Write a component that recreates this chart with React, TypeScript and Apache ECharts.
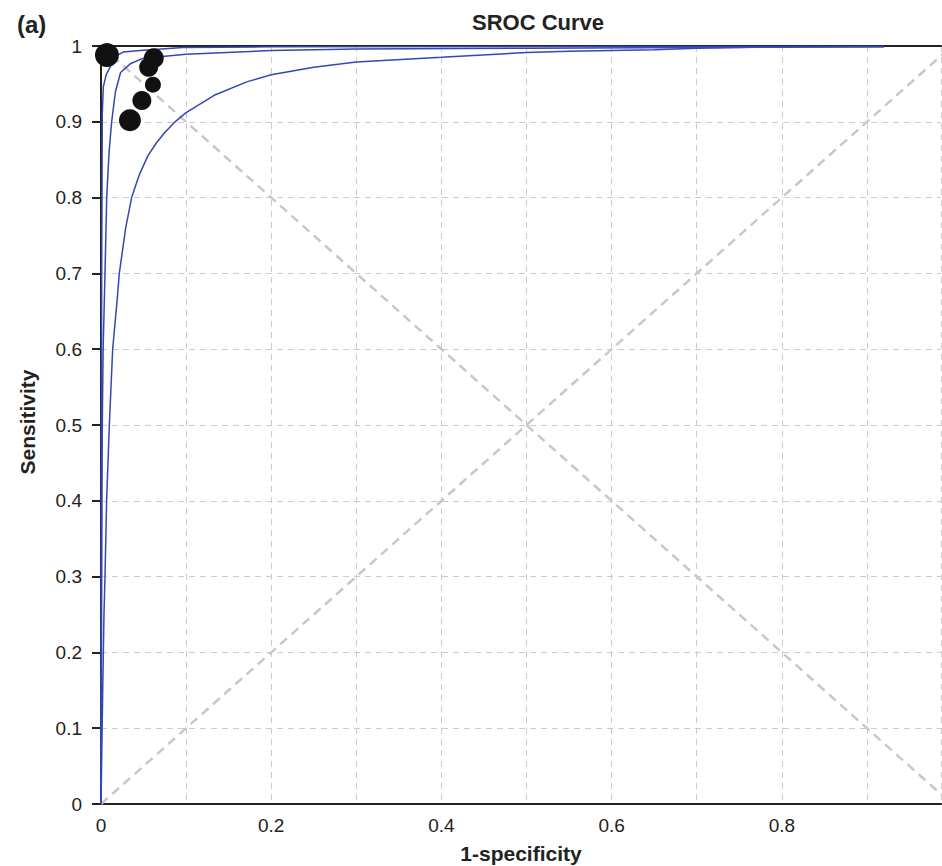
import React, { useEffect, useRef } from "react";
import * as echarts from "echarts";

// Study points (1-specificity, sensitivity) and their relative weights
const studyFpr = [0.007, 0.062, 0.056, 0.061, 0.048, 0.034];
const studySens = [0.988, 0.984, 0.972, 0.949, 0.928, 0.902];
const studyWeight = [24, 20, 19, 16, 19, 22];

// SROC curve and its confidence bounds
const srocCurve = [
  [0, 0], [0.0005, 0.2], [0.001, 0.35], [0.0015, 0.5], [0.0025, 0.6], [0.0047, 0.7],
  [0.0067, 0.8], [0.0095, 0.86], [0.0125, 0.9], [0.017, 0.94], [0.023, 0.965],
  [0.035, 0.977], [0.05, 0.984], [0.1, 0.989], [0.2, 0.994], [0.3, 0.996],
  [0.5, 0.997], [0.7, 0.998], [0.92, 0.999],
];
const upperCurve = [
  [0, 0], [0.0003, 0.4], [0.0008, 0.7], [0.0015, 0.91], [0.0027, 0.946], [0.006, 0.962],
  [0.0106, 0.972], [0.0145, 0.985], [0.026, 0.992], [0.046, 0.994], [0.096, 0.998],
  [0.2, 0.999], [0.92, 0.9995],
];
const lowerCurve = [
  [0, 0], [0.002, 0.15], [0.0035, 0.25], [0.0047, 0.3], [0.0066, 0.4], [0.0098, 0.5],
  [0.0137, 0.6], [0.019, 0.665], [0.0215, 0.7], [0.029, 0.76], [0.036, 0.8], [0.045, 0.83],
  [0.055, 0.855], [0.065, 0.872], [0.075, 0.886], [0.087, 0.9], [0.1, 0.912], [0.133, 0.935],
  [0.172, 0.953], [0.2, 0.962], [0.25, 0.972], [0.3, 0.979], [0.4, 0.985], [0.5, 0.9915],
  [0.55, 0.993], [0.65, 0.995], [0.7, 0.997], [0.75, 0.998], [0.8, 0.999], [0.92, 0.9995],
];
const diagonalUp = [[0, 0], [1, 1]];
const diagonalDown = [[0, 1], [1, 0]];

// visible part of the x range (the figure is cropped just before x = 1)
const xVisibleMax = 0.987;

const titleText = "SROC Curve";
const panelLabel = "(a)";
const xName = "1-specificity";
const yName = "Sensitivity";

const FONT = "'Liberation Sans', Arial, Helvetica, sans-serif";
const fmt = (v: number) => parseFloat(v.toFixed(1)).toString();

export default function App() {
  const ref = useRef<HTMLDivElement>(null);
  useEffect(() => {
    const chart = echarts.init(ref.current!, null, { renderer: "svg" });
    const curveStyle = { color: "#3447b3", width: 1.5 };
    chart.setOption({
      animation: false,
      backgroundColor: "#ffffff",
      textStyle: { fontFamily: FONT },
      grid: { left: 101, top: 46, right: 1, bottom: 62, containLabel: false },
      xAxis: [
        {
          type: "value",
          min: 0,
          max: xVisibleMax,
          interval: 0.1,
          axisLine: { onZero: false, lineStyle: { color: "#222", width: 2 } },
          axisTick: { show: false },
          axisLabel: {
            fontSize: 19,
            color: "#222",
            margin: 12,
            fontFamily: FONT,
            showMaxLabel: false,
            formatter: (v: number) =>
              Math.abs(v * 10 - Math.round(v * 10)) < 1e-6 && Math.round(v * 10) % 2 === 0 && v < 0.95
                ? fmt(v)
                : "",
          },
          splitLine: { show: true, lineStyle: { color: "#cccccc", type: [6, 5], width: 1 } },
        },
        {
          type: "value",
          position: "top",
          min: 0,
          max: xVisibleMax,
          axisLine: { show: true, onZero: false, lineStyle: { color: "#222", width: 2 } },
          axisTick: { show: false },
          axisLabel: { show: false },
          splitLine: { show: false },
        },
      ],
      yAxis: {
        type: "value",
        min: 0,
        max: 1,
        interval: 0.1,
        axisLine: { show: true, onZero: false, lineStyle: { color: "#222", width: 2 } },
        axisTick: { show: true, length: 9, lineStyle: { color: "#222", width: 2 } },
        axisLabel: { fontSize: 19, color: "#222", margin: 19, fontFamily: FONT, formatter: fmt },
        splitLine: { show: true, lineStyle: { color: "#cccccc", type: [6, 5], width: 1 } },
      },
      graphic: [
        {
          type: "text",
          x: 538,
          y: 22,
          style: {
            text: titleText,
            font: `bold 22px ${FONT}`,
            fill: "#222",
            textAlign: "center",
            textVerticalAlign: "middle",
          },
        },
        {
          type: "text",
          x: 17,
          y: 24,
          style: {
            text: panelLabel,
            font: `bold 24px ${FONT}`,
            fill: "#222",
            textAlign: "left",
            textVerticalAlign: "middle",
          },
        },
        {
          type: "text",
          x: 521,
          y: 853,
          style: {
            text: xName,
            font: `bold 21px ${FONT}`,
            fill: "#222",
            textAlign: "center",
            textVerticalAlign: "middle",
          },
        },
        {
          type: "text",
          x: 27,
          y: 422,
          rotation: Math.PI / 2,
          style: {
            text: yName,
            font: `bold 21px ${FONT}`,
            fill: "#222",
            textAlign: "center",
            textVerticalAlign: "middle",
          },
        },
      ],
      series: [
        {
          type: "line",
          data: diagonalUp,
          symbol: "none",
          silent: true,
          lineStyle: { color: "#c8c8c8", width: 2.5, type: [9, 6] },
          z: 1,
        },
        {
          type: "line",
          data: diagonalDown,
          symbol: "none",
          silent: true,
          lineStyle: { color: "#c8c8c8", width: 2.5, type: [9, 6] },
          z: 1,
        },
        { type: "line", data: lowerCurve, symbol: "none", lineStyle: curveStyle, z: 3 },
        { type: "line", data: srocCurve, symbol: "none", lineStyle: curveStyle, z: 3 },
        { type: "line", data: upperCurve, symbol: "none", lineStyle: curveStyle, z: 3 },
        {
          type: "scatter",
          data: studyFpr.map((x, i) => [x, studySens[i], studyWeight[i]]),
          symbol: "circle",
          symbolSize: (d: number[]) => d[2],
          itemStyle: { color: "#111111", opacity: 1 },
          clip: false,
          z: 5,
        },
      ],
    });
    return () => chart.dispose();
  }, []);
  return (
    <div
      ref={ref}
      style={{ position: "fixed", left: 0, top: 0, width: 942, height: 866, background: "#fff" }}
    />
  );
}
